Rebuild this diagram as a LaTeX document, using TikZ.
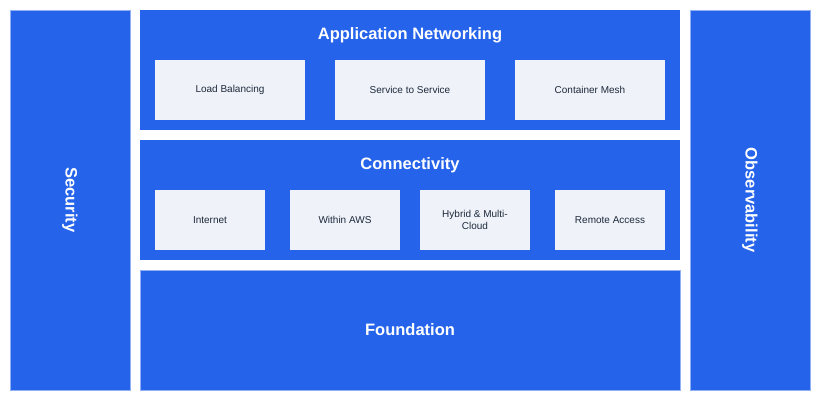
\documentclass[tikz,border=0pt]{standalone}
\usepackage{fontspec}
\setmainfont{Liberation Sans}
\definecolor{blu}{HTML}{2563EB}
\definecolor{lite}{HTML}{EFF3F9}
\definecolor{txt}{HTML}{1E293B}
\begin{document}
\begin{tikzpicture}[x=1pt,y=-1pt,
  band/.style={fill=blu,draw=blu!50!white,line width=0.8pt},
  item/.style={fill=lite,draw=none,text=txt,font=\fontsize{10}{12}\selectfont,align=center},
  ttl/.style={text=white,font=\bfseries\fontsize{16.5}{19}\selectfont}]
\useasboundingbox (0,0) rectangle (820,400);
\fill[white] (0,0) rectangle (820,400);
\draw[band] (10,10) rectangle (130,390);
\draw[band] (690,10) rectangle (810,390);
\fill[blu] (140,10) rectangle (680,130);
\fill[blu] (140,140) rectangle (680,260);
\draw[band] (140,270) rectangle (680,390);
\node[ttl,rotate=-90] (sec) at (70,200) {Security};
\node[ttl,rotate=-90] (obs) at (750,200) {Observability};
\node[ttl] (app) at (410,35) {Application Networking};
\node[ttl] (con) at (410,165) {Connectivity};
\node[ttl] (fnd) at (410,330) {Foundation};
\fill[lite] (155,60) rectangle (305,120); \node[item] (lb) at (230,90) {Load Balancing};
\fill[lite] (335,60) rectangle (485,120); \node[item] (ss) at (410,90) {Service to Service};
\fill[lite] (515,60) rectangle (665,120); \node[item] (cm) at (590,90) {Container Mesh};
\fill[lite] (155,190) rectangle (265,250); \node[item] (in) at (210,220) {Internet};
\fill[lite] (290,190) rectangle (400,250); \node[item] (wa) at (345,220) {Within AWS};
\fill[lite] (420,190) rectangle (530,250); \node[item] (hy) at (475,220) {Hybrid \& Multi-\\Cloud};
\fill[lite] (555,190) rectangle (665,250); \node[item] (ra) at (610,220) {Remote Access};
\end{tikzpicture}
\end{document}
